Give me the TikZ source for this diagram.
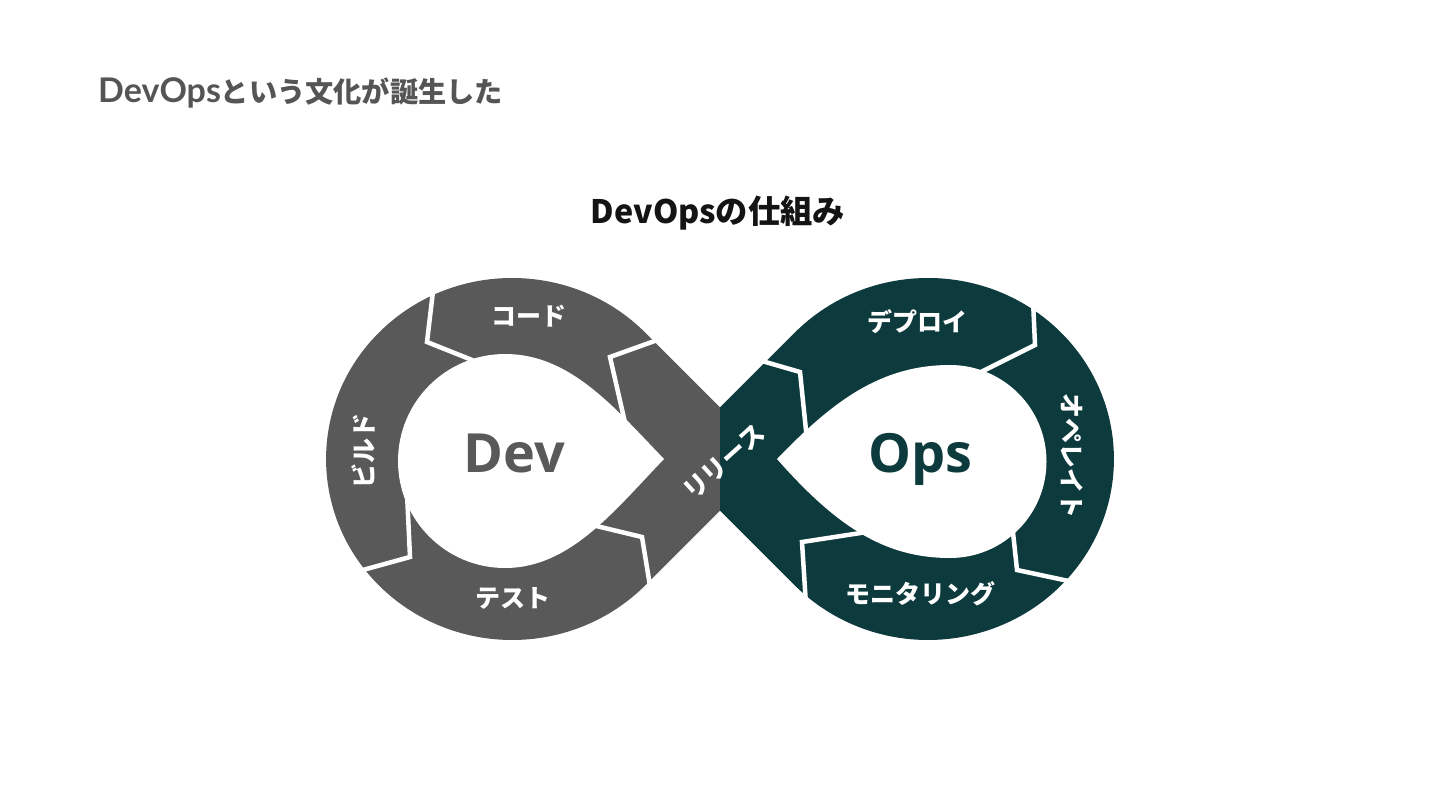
\documentclass[tikz,border=0pt]{standalone}
\usepackage{fontspec}
\newfontfamily\cjk{Noto Sans CJK JP}
\newfontfamily\latofont{Lato}
\newfontfamily\opensans{Open Sans}
\definecolor{devgray}{HTML}{595959}
\definecolor{opsteal}{HTML}{0D3A3C}
\definecolor{titlegray}{HTML}{555555}
\begin{document}
\begin{tikzpicture}[x=1bp,y=-1bp,
  lbl/.style={text=white, font=\cjk\bfseries\fontsize{25bp}{30bp}\selectfont, inner sep=0pt},
  sepline/.style={draw=white, line width=4.5bp, line join=miter, line cap=butt},
  bigword/.style={font=\opensans\bfseries\fontsize{54bp}{60bp}\selectfont, anchor=base, inner sep=0pt}]
\fill[white] (0,0) rectangle (1440,810);
\useasboundingbox (0,0) rectangle (1440,810);

% title and subtitle
\node[anchor=base west, inner sep=0pt, text=titlegray] (title) at (98,102)
  {{\latofont\bfseries\fontsize{34bp}{40bp}\selectfont DevOps}{\cjk\bfseries\fontsize{28.2bp}{34bp}\selectfont という文化が誕生した}};
\node[anchor=base, inner sep=0pt, text=black!92] (subtitle) at (718,223)
  {\cjk\bfseries\fontsize{32.3bp}{38bp}\selectfont DevOpsの仕組み};

% outer bands
\fill[devgray] (720,407.4) -- (645.4,332.8)
  arc[start angle=-44.2, end angle=-315.8, x radius=186, y radius=181]
  -- (720,510.6) -- cycle;
\fill[opsteal] (720,407.4) -- (794.6,332.8)
  arc[start angle=-135.8, end angle=135.8, x radius=186, y radius=181]
  -- (720,510.6) -- cycle;

% separators (chevrons)
\draw[sepline] (434,283) -- (427,342) -- (477,362);
\draw[sepline] (352,573) -- (410,557) -- (407,493);
\draw[sepline] (588,524) -- (642,537) -- (651,592);
\draw[sepline] (663,338) -- (610,357) -- (626,427);
\draw[sepline] (755,359) -- (800,372) -- (807,440);
\draw[sepline] (1033,300) -- (1035,345) -- (975,375);
\draw[sepline] (1012,523) -- (1017,570) -- (1078,583);
\draw[sepline] (867,532) -- (802,542) -- (806,605);

% inner teardrops
\fill[white] (664,459) .. controls (614,407) and (570,354) .. (505,354)
  arc[start angle=270, end angle=90, radius=107]
  .. controls (570,568) and (614,511) .. (664,459) -- cycle;
\fill[white] (777,459) .. controls (832,402) and (880,365) .. (950,365)
  arc[start angle=-90, end angle=90, radius=96.5]
  .. controls (885,558) and (837,527) .. (777,459) -- cycle;

% labels
\node[lbl] (code) at (529,316) {コード};
\node[lbl, rotate=90] (build) at (363,451) {ビルド};
\node[lbl] (test) at (513,598) {テスト};
\node[lbl, rotate=42] (release) at (724,462) {リリース};
\node[lbl] (deploy) at (917,322) {デプロイ};
\node[lbl, rotate=-90] (operate) at (1072,456) {オペレイト};
\node[lbl] (monitor) at (920,594) {モニタリング};

\node[bigword, text=devgray] (dev) at (514,472) {Dev};
\node[bigword, text=opsteal] (ops) at (920,472) {Ops};
\end{tikzpicture}
\end{document}
